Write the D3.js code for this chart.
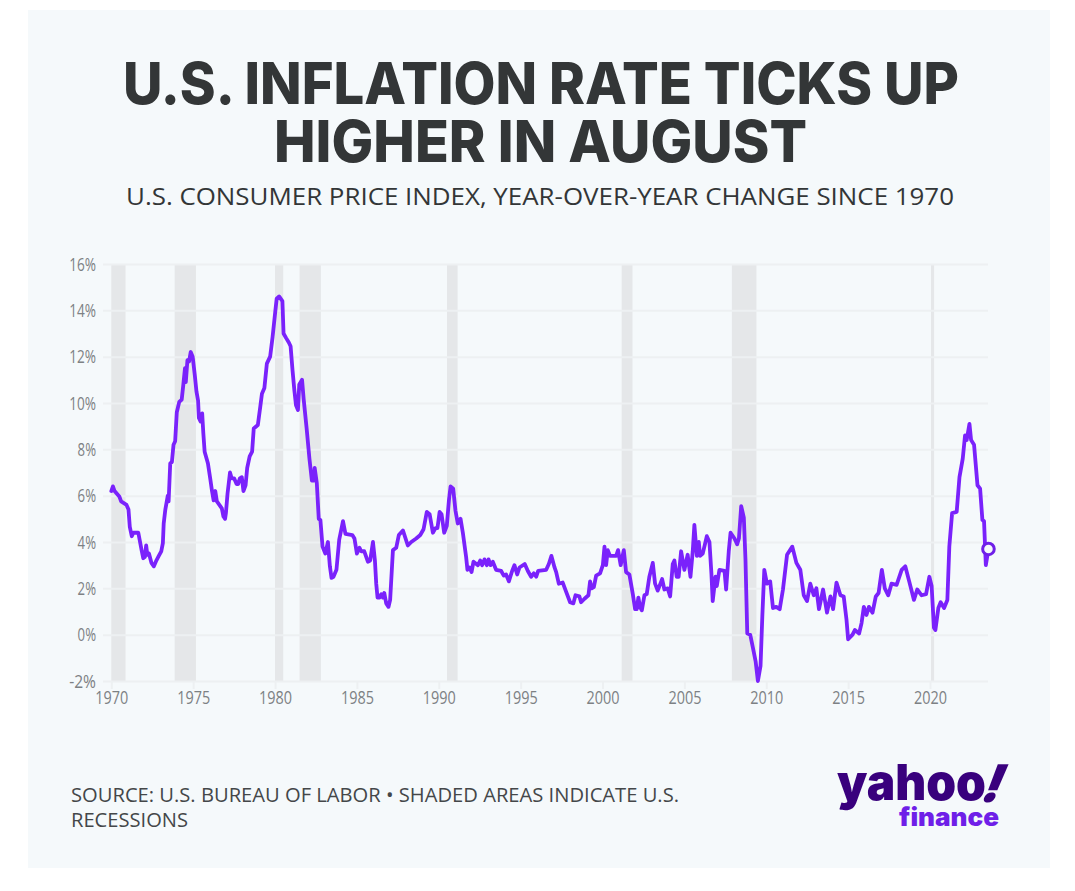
<!DOCTYPE html>
<html>
  <head>
    <meta charset="utf-8">
    <title>U.S. inflation rate ticks up higher in August</title>
    <script src="https://d3js.org/d3.v7.min.js"></script>
    <style>
      html, body { margin: 0; padding: 0; background: #fff; }
      svg { display: block; }
      text { font-family: "Open Sans", sans-serif; }
      .grid line { stroke: #edf0f2; stroke-width: 2; }
      .grid path, .x-axis path { display: none; }
      .x-axis line { stroke: #edf0f2; stroke-width: 2; }
      .tick text { fill: #7d8184; font-size: 19px; }
      .title { font-family: Inter, sans-serif; }
      .logo text { font-family: Inter, sans-serif; }
    </style>
  </head>
  <body>
    <div id="chart"></div>
    <script>
      // values
      var years = [
        1970.0, 1970.1, 1970.2, 1970.5, 1970.6, 1970.93, 1971.05, 1971.13, 1971.25, 1971.35, 1971.65, 1971.85, 1971.95,
        1972.05, 1972.13, 1972.2, 1972.3, 1972.45, 1972.6, 1972.75, 1972.9, 1973.05, 1973.15, 1973.2, 1973.3, 1973.45,
        1973.5, 1973.6, 1973.7, 1973.8, 1973.9, 1974.0, 1974.15, 1974.3, 1974.4, 1974.5, 1974.55, 1974.65, 1974.75,
        1974.85, 1974.97, 1975.1, 1975.2, 1975.3, 1975.35, 1975.45, 1975.55, 1975.62, 1975.7, 1975.9, 1976.05, 1976.15,
        1976.25, 1976.35, 1976.45, 1976.6, 1976.75, 1976.85, 1976.95, 1977.0, 1977.1, 1977.25, 1977.35, 1977.5, 1977.65,
        1977.75, 1977.85, 1977.97, 1978.07, 1978.2, 1978.3, 1978.45, 1978.6, 1978.7, 1978.95, 1979.1, 1979.2, 1979.35,
        1979.5, 1979.7, 1979.85, 1980.0, 1980.1, 1980.25, 1980.45, 1980.52, 1980.68, 1980.85, 1980.95, 1981.07, 1981.18,
        1981.28, 1981.4, 1981.48, 1981.65, 1981.75, 1981.93, 1982.1, 1982.25, 1982.3, 1982.37, 1982.42, 1982.55, 1982.67,
        1982.77, 1982.9, 1983.07, 1983.23, 1983.35, 1983.45, 1983.57, 1983.75, 1983.92, 1984.15, 1984.3, 1984.72, 1984.85,
        1985.0, 1985.16, 1985.26, 1985.45, 1985.67, 1985.81, 1985.98, 1986.1, 1986.18, 1986.26, 1986.38, 1986.49, 1986.59,
        1986.67, 1986.79, 1986.93, 1987.03, 1987.2, 1987.4, 1987.56, 1987.81, 1988.11, 1988.32, 1988.62, 1988.87, 1989.07,
        1989.27, 1989.44, 1989.64, 1989.8, 1989.92, 1990.05, 1990.17, 1990.33, 1990.49, 1990.62, 1990.72, 1990.88, 1991.02,
        1991.16, 1991.33, 1991.47, 1991.67, 1991.75, 1991.88, 1992.0, 1992.12, 1992.39, 1992.53, 1992.65, 1992.79, 1992.93,
        1993.04, 1993.16, 1993.3, 1993.5, 1993.81, 1993.97, 1994.11, 1994.28, 1994.48, 1994.62, 1994.79, 1994.93, 1995.25,
        1995.44, 1995.64, 1995.8, 1995.95, 1996.07, 1996.56, 1996.72, 1996.88, 1997.07, 1997.17, 1997.33, 1997.57, 1997.78,
        1998.02, 1998.22, 1998.35, 1998.59, 1998.69, 1998.9, 1999.14, 1999.24, 1999.34, 1999.47, 1999.61, 1999.85, 2000.02,
        2000.12, 2000.22, 2000.32, 2000.46, 2000.83, 2000.95, 2001.11, 2001.3, 2001.44, 2001.64, 2001.85, 2001.99, 2002.09,
        2002.19, 2002.29, 2002.4, 2002.56, 2002.7, 2002.86, 2003.07, 2003.21, 2003.37, 2003.64, 2003.78, 2003.98, 2004.13,
        2004.29, 2004.39, 2004.53, 2004.65, 2004.8, 2005.0, 2005.2, 2005.37, 2005.51, 2005.61, 2005.76, 2005.88, 2005.96,
        2006.12, 2006.37, 2006.53, 2006.65, 2006.73, 2006.9, 2006.98, 2007.14, 2007.45, 2007.55, 2007.71, 2007.82, 2008.06,
        2008.22, 2008.33, 2008.47, 2008.63, 2008.73, 2008.84, 2009.02, 2009.18, 2009.35, 2009.49, 2009.65, 2009.76, 2009.88,
        2010.04, 2010.24, 2010.41, 2010.61, 2010.82, 2011.02, 2011.27, 2011.59, 2011.84, 2012.08, 2012.29, 2012.49, 2012.69,
        2012.9, 2013.06, 2013.22, 2013.47, 2013.71, 2013.92, 2014.08, 2014.29, 2014.53, 2014.73, 2014.9, 2015.0, 2015.27,
        2015.41, 2015.67, 2015.82, 2015.96, 2016.12, 2016.27, 2016.49, 2016.69, 2016.86, 2017.06, 2017.24, 2017.45, 2017.65,
        2017.96, 2018.27, 2018.49, 2018.73, 2019.02, 2019.22, 2019.49, 2019.76, 2019.96, 2020.1, 2020.24, 2020.33, 2020.51,
        2020.65, 2020.86, 2021.06, 2021.18, 2021.35, 2021.63, 2021.8, 2022.0, 2022.14, 2022.24, 2022.41, 2022.51, 2022.69,
        2022.9, 2023.06, 2023.2, 2023.3, 2023.41, 2023.57
      ];
      var rates = [
        6.2, 6.4, 6.2, 5.95, 5.75, 5.6, 5.4, 4.65, 4.25, 4.4, 4.4, 3.65, 3.3,
        3.35, 3.85, 3.45, 3.5, 3.1, 2.95, 3.2, 3.4, 3.6, 3.95, 4.8, 5.4, 6.0,
        5.75, 7.4, 7.45, 8.2, 8.35, 9.6, 10.05, 10.15, 10.8, 11.5, 10.9, 11.85, 11.8,
        12.2, 12.0, 11.2, 10.5, 10.1, 9.35, 9.2, 9.55, 8.7, 7.9, 7.4, 6.7, 6.2,
        5.8, 6.2, 5.75, 5.6, 5.45, 5.1, 5.0, 5.25, 6.1, 7.0, 6.75, 6.75, 6.5,
        6.5, 6.75, 6.8, 6.2, 6.45, 7.2, 7.7, 7.9, 8.9, 9.05, 9.85, 10.4, 10.65,
        11.7, 12.0, 12.85, 13.85, 14.5, 14.6, 14.4, 13.0, 12.8, 12.6, 12.45, 11.4, 10.55,
        9.9, 9.7, 10.8, 11.0, 10.15, 8.9, 7.6, 6.65, 6.95, 6.65, 7.2, 6.55, 5.0,
        4.95, 3.8, 3.5, 4.0, 2.95, 2.45, 2.5, 2.8, 4.1, 4.9, 4.35, 4.3, 4.15,
        3.5, 3.75, 3.6, 3.6, 3.15, 3.2, 4.0, 3.2, 2.2, 1.6, 1.6, 1.75, 1.6,
        1.8, 1.35, 1.2, 1.5, 3.65, 3.75, 4.3, 4.5, 3.85, 4.0, 4.15, 4.3, 4.55,
        5.3, 5.2, 4.4, 4.6, 4.6, 5.3, 5.2, 4.4, 4.7, 5.8, 6.4, 6.3, 5.35,
        4.8, 5.0, 4.4, 3.35, 2.8, 2.9, 2.7, 3.15, 3.0, 3.2, 3.0, 3.25, 3.0,
        3.25, 3.0, 3.15, 2.8, 2.75, 2.55, 2.6, 2.3, 2.75, 3.0, 2.6, 2.9, 3.05,
        2.75, 2.5, 2.65, 2.5, 2.75, 2.8, 3.05, 3.4, 2.9, 2.7, 2.2, 2.25, 1.85,
        1.4, 1.35, 1.7, 1.65, 1.4, 1.55, 1.7, 2.3, 2.0, 2.05, 2.55, 2.65, 3.0,
        3.8, 3.0, 3.65, 3.4, 3.4, 3.65, 3.0, 3.65, 2.7, 2.6, 1.75, 1.1, 1.1,
        1.6, 1.2, 1.05, 1.7, 1.75, 2.5, 3.1, 2.2, 1.9, 2.4, 1.95, 2.0, 1.65,
        3.05, 3.2, 2.5, 2.5, 3.6, 2.8, 3.45, 2.5, 3.6, 4.74, 3.4, 4.0, 3.4,
        3.5, 4.25, 4.0, 2.65, 1.45, 2.5, 2.1, 2.8, 2.75, 1.95, 3.6, 4.4, 4.15,
        3.9, 4.15, 5.55, 5.05, 3.25, 0.05, 0.0, -0.55, -1.15, -2.0, -1.35, 0.8, 2.8,
        2.2, 2.3, 1.15, 1.2, 1.1, 1.95, 3.45, 3.8, 3.1, 2.8, 1.7, 1.45, 2.2,
        1.7, 2.0, 1.1, 1.95, 0.95, 1.65, 1.1, 2.25, 1.7, 1.65, 0.65, -0.2, 0.0,
        0.2, 0.05, 0.5, 1.2, 0.85, 1.2, 0.95, 1.65, 1.8, 2.8, 2.0, 1.7, 2.2,
        2.15, 2.8, 2.95, 2.3, 1.5, 1.95, 1.7, 1.75, 2.5, 2.1, 0.3, 0.2, 1.15,
        1.4, 1.15, 1.5, 3.8, 5.25, 5.3, 6.8, 7.6, 8.6, 8.4, 9.1, 8.4, 8.2,
        6.45, 6.3, 4.95, 4.9, 3.0, 3.7
      ];
      var recessionStarts = [1970.0, 1973.87, 1980.0, 1981.5, 1990.5, 2001.17, 2007.9, 2020.06];
      var recessionEnds = [1970.87, 1975.17, 1980.5, 1982.8, 1991.15, 2001.83, 2009.4, 2020.25];
      var yTicks = [-2, 0, 2, 4, 6, 8, 10, 12, 14, 16];
      var xTicks = [1970, 1975, 1980, 1985, 1990, 1995, 2000, 2005, 2010, 2015, 2020];
      var titleLines = ["U.S. INFLATION RATE TICKS UP", "HIGHER IN AUGUST"];
      var subtitle = "U.S. CONSUMER PRICE INDEX, YEAR-OVER-YEAR CHANGE SINCE 1970";
      var sourceLines = ["SOURCE: U.S. BUREAU OF LABOR \u2022 SHADED AREAS INDICATE U.S.", "RECESSIONS"];

      var width = 1075;
      var height = 891;

      var svg = d3.select("#chart")
        .append("svg")
        .attr("width", width)
        .attr("height", height);

      // panel behind everything
      svg.append("rect")
        .attr("x", 28)
        .attr("y", 10)
        .attr("width", 1022)
        .attr("height", 858)
        .attr("fill", "#f5f9fb");

      // fixed-width text helper, the fonts here are wider than the original
      function fitText(x, y, str, size, weight, color, len) {
        return svg.append("text")
          .attr("x", x)
          .attr("y", y)
          .attr("font-size", size)
          .attr("font-weight", weight)
          .attr("fill", color)
          .attr("textLength", len)
          .attr("lengthAdjust", "spacingAndGlyphs")
          .text(str);
      }

      fitText(123, 104, titleLines[0], 58, 800, "#333637", 836).attr("class", "title");
      fitText(274, 162, titleLines[1], 58, 800, "#333637", 533).attr("class", "title");
      fitText(126, 205, subtitle, 24, 400, "#333637", 828);
      fitText(71, 802, sourceLines[0], 19.5, 400, "#444749", 608);
      fitText(71, 827, sourceLines[1], 19.5, 400, "#444749", 117);

      var x = d3.scaleLinear().domain([1970, 2020]).range([111.3, 930]);
      var y = d3.scaleLinear().domain([-2, 16]).range([681, 264]);

      // recession bands
      svg.append("g")
        .selectAll("rect")
        .data(recessionStarts)
        .enter()
        .append("rect")
        .attr("x", function(d) { return x(d); })
        .attr("y", y(16))
        .attr("width", function(d, i) { return x(recessionEnds[i]) - x(d); })
        .attr("height", y(-2) - y(16))
        .attr("fill", "#e5e7e9");

      // y axis with gridlines
      var yAxis = d3.axisLeft(y)
        .tickValues(yTicks)
        .tickSize(885)
        .tickPadding(7)
        .tickFormat(function(d) { return d + "%"; });

      svg.append("g")
        .attr("class", "grid")
        .attr("transform", "translate(988,0)")
        .call(yAxis);

      var xAxis = d3.axisBottom(x)
        .tickValues(xTicks)
        .tickSize(7)
        .tickPadding(2)
        .tickFormat(function(d) { return d; });

      svg.append("g")
        .attr("class", "x-axis")
        .attr("transform", "translate(0,682)")
        .call(xAxis);

      // squeeze tick labels, they are condensed in the original
      svg.selectAll(".grid .tick text")
        .attr("textLength", function(d) { return String(d).length * 8.4 + 10; })
        .attr("lengthAdjust", "spacingAndGlyphs");
      svg.selectAll(".x-axis .tick text")
        .attr("textLength", 33)
        .attr("lengthAdjust", "spacingAndGlyphs");

      var points = years.map(function(d, i) { return [d, rates[i]]; });

      var line = d3.line()
        .x(function(d) { return x(d[0]); })
        .y(function(d) { return y(d[1]); });

      svg.append("path")
        .datum(points)
        .attr("d", line)
        .attr("fill", "none")
        .attr("stroke", "#7a22fb")
        .attr("stroke-width", 3.8)
        .attr("stroke-linejoin", "round")
        .attr("stroke-linecap", "round");

      // latest reading
      var last = points[points.length - 1];
      svg.append("circle")
        .attr("cx", x(last[0]))
        .attr("cy", y(last[1]))
        .attr("r", 5.8)
        .attr("fill", "#f5f9fb")
        .attr("stroke", "#6f1fe8")
        .attr("stroke-width", 3);

      // logo, as text
      var logo = svg.append("g").attr("class", "logo");
      logo.append("text")
        .attr("x", 837)
        .attr("y", 800)
        .attr("font-size", 50)
        .attr("font-weight", 900)
        .attr("fill", "#39007d")
        .attr("textLength", 149)
        .attr("lengthAdjust", "spacingAndGlyphs")
        .text("yahoo");
      logo.append("text")
        .attr("transform", "translate(978,802) skewX(-22)")
        .attr("font-size", 52)
        .attr("font-weight", 900)
        .attr("fill", "#39007d")
        .text("!");
      logo.append("text")
        .attr("x", 899)
        .attr("y", 826)
        .attr("font-size", 25)
        .attr("font-weight", 900)
        .attr("fill", "#6f1fe8")
        .attr("textLength", 100)
        .attr("lengthAdjust", "spacingAndGlyphs")
        .text("finance");
    </script>
  </body>
</html>
